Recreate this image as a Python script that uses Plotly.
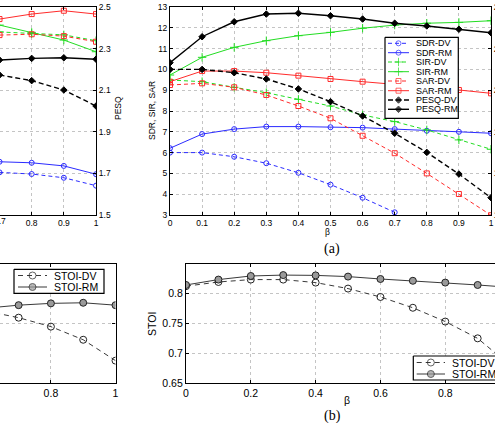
import plotly.graph_objects as go

W, H = 495, 423

# ---------------- data ----------------
# (a) left panel, only beta 0.7..1 visible
beta_tl = [0.7, 0.8, 0.9, 1.0]
tl_sdr_dv = [5.05, 4.97, 4.79, 4.41]
tl_sdr_rm = [5.56, 5.51, 5.36, 4.96]
tl_sir_dv = [11.80, 11.72, 11.66, 11.38]
tl_sir_rm = [12.13, 11.78, 11.41, 10.85]
tl_sar_dv = [11.65, 11.69, 11.60, 11.33]
tl_sar_rm = [12.42, 12.66, 12.82, 12.66]
tl_pesq_dv = [2.173, 2.146, 2.101, 2.024]
tl_pesq_rm = [2.245, 2.253, 2.256, 2.249]

# (a) right panel
beta = [0.0, 0.1, 0.2, 0.3, 0.4, 0.5, 0.6, 0.7, 0.8, 0.9, 1.0]
sdr_dv = [6.00, 6.00, 5.80, 5.49, 5.03, 4.46, 3.83, 3.13]
sdr_rm = [6.21, 6.89, 7.13, 7.25, 7.25, 7.22, 7.20, 7.13, 7.05, 7.00, 6.93]
sir_dv = [9.49, 9.41, 9.14, 8.88, 8.56, 8.24, 7.81, 7.49, 7.09, 6.61, 6.16]
sir_rm = [9.73, 10.58, 11.06, 11.38, 11.62, 11.78, 11.98, 12.13, 12.22, 12.26, 12.34]
sar_dv = [9.25, 9.33, 9.14, 8.77, 8.24, 7.65, 6.81, 5.97, 5.00, 4.01, 2.99]
sar_rm = [9.41, 9.92, 9.92, 9.84, 9.70, 9.54, 9.41, 9.28, 9.15, 9.01, 8.85]
pesq_dv = [2.200, 2.200, 2.184, 2.154, 2.106, 2.045, 1.976, 1.893, 1.801, 1.697, 1.583]
pesq_rm = [2.232, 2.357, 2.429, 2.466, 2.470, 2.458, 2.442, 2.422, 2.409, 2.393, 2.376]

# (b) left panel
beta_bl = [0.6, 0.7, 0.8, 0.9, 1.0]
bl_stoi_dv = [0.821, 0.810, 0.795, 0.773, 0.738]
bl_stoi_rm = [0.826, 0.831, 0.834, 0.835, 0.831]

# (b) right panel
stoi_dv = [0.812, 0.819, 0.823, 0.823, 0.818, 0.808, 0.794, 0.776, 0.753, 0.725, 0.680]
stoi_rm = [0.814, 0.823, 0.829, 0.8305, 0.830, 0.828, 0.824, 0.821, 0.818, 0.814, 0.810]

names_a = ["SDR-DV", "SDR-RM", "SIR-DV", "SIR-RM", "SAR-DV", "SAR-RM", "PESQ-DV", "PESQ-RM"]
names_b = ["STOI-DV", "STOI-RM"]
tick_beta = [0.0, 0.1, 0.2, 0.3, 0.4, 0.5, 0.6, 0.7, 0.8, 0.9, 1.0]
tick_pesq = [1.5, 1.7, 1.9, 2.1, 2.3, 2.5]

# ---------------- styles ----------------
BLUE, RED, GREEN, BLACK = "#2b2bff", "#ff2b2b", "#22dd22", "#000000"
DASH = "4px,3px"
sty = {
    "SDR-DV": dict(color=BLUE, dash=DASH, symbol="circle-open", size=5, w=1),
    "SDR-RM": dict(color=BLUE, dash="solid", symbol="circle-open", size=5, w=1),
    "SIR-DV": dict(color=GREEN, dash=DASH, symbol="cross-thin-open", size=6, w=1),
    "SIR-RM": dict(color=GREEN, dash="solid", symbol="cross-thin-open", size=6, w=1),
    "SAR-DV": dict(color=RED, dash=DASH, symbol="square-open", size=5, w=1),
    "SAR-RM": dict(color=RED, dash="solid", symbol="square-open", size=5, w=1),
    "PESQ-DV": dict(color=BLACK, dash="5px,3px", symbol="diamond", size=5, w=1.4),
    "PESQ-RM": dict(color=BLACK, dash="solid", symbol="diamond", size=5, w=1.4),
    "STOI-DV": dict(color="#222222", dash="5px,4px", symbol="circle-open", size=7, w=0.9, fill=None),
    "STOI-RM": dict(color="#222222", dash="solid", symbol="circle", size=7, w=0.9, fill="#9a9a9a"),
}


def line(x, y, name, xa, ya):
    s = sty[name]
    mk = dict(symbol=s["symbol"], size=s["size"], color=s.get("fill") or s["color"],
              line=dict(color=s["color"], width=1))
    return go.Scatter(x=x, y=y, mode="lines+markers", name=name, xaxis=xa, yaxis=ya,
                      line=dict(color=s["color"], width=s["w"], dash=s["dash"]),
                      marker=mk, showlegend=False, hoverinfo="skip")


fig = go.Figure()

# top-left panel
tl = [("SDR-DV", tl_sdr_dv), ("SDR-RM", tl_sdr_rm), ("SIR-DV", tl_sir_dv), ("SIR-RM", tl_sir_rm),
      ("SAR-DV", tl_sar_dv), ("SAR-RM", tl_sar_rm)]
for n, v in tl:
    fig.add_trace(line(beta_tl, v, n, "x", "y"))
fig.add_trace(line(beta_tl, tl_pesq_dv, "PESQ-DV", "x", "y2"))
fig.add_trace(line(beta_tl, tl_pesq_rm, "PESQ-RM", "x", "y2"))

# top-right panel
tr = [("SDR-DV", sdr_dv), ("SDR-RM", sdr_rm), ("SIR-DV", sir_dv), ("SIR-RM", sir_rm),
      ("SAR-DV", sar_dv), ("SAR-RM", sar_rm)]
for n, v in tr:
    fig.add_trace(line(beta[:len(v)], v, n, "x2", "y3"))
fig.add_trace(line(beta, pesq_dv, "PESQ-DV", "x2", "y4"))
fig.add_trace(line(beta, pesq_rm, "PESQ-RM", "x2", "y4"))

# bottom panels
fig.add_trace(line(beta_bl, bl_stoi_dv, "STOI-DV", "x3", "y5"))
fig.add_trace(line(beta_bl, bl_stoi_rm, "STOI-RM", "x3", "y5"))
fig.add_trace(line(beta, stoi_dv, "STOI-DV", "x4", "y6"))
fig.add_trace(line(beta, stoi_rm, "STOI-RM", "x4", "y6"))

# ---------------- manual legends (pixel overlay axis) ----------------
annotations = []


def legend_box(x0, x1, y0, y1, rows_y, names, lx0, lx1, tx, fsize):
    fig.add_trace(go.Scatter(x=[x0, x1, x1, x0, x0], y=[y0, y0, y1, y1, y0], mode="lines",
                             fill="toself", fillcolor="white", line=dict(color="black", width=1.2),
                             xaxis="x5", yaxis="y7", showlegend=False, hoverinfo="skip"))
    for n, yy in zip(names, rows_y):
        s = sty[n]
        fig.add_trace(go.Scatter(x=[lx0, (lx0 + lx1) / 2, lx1], y=[yy, yy, yy], mode="lines+markers",
                                 line=dict(color=s["color"], width=s["w"], dash=s["dash"]),
                                 marker=dict(symbol=s["symbol"], size=[0, s["size"], 0],
                                             color=s.get("fill") or s["color"],
                                             line=dict(color=s["color"], width=1)),
                                 xaxis="x5", yaxis="y7", showlegend=False, hoverinfo="skip"))
        annotations.append(dict(x=tx, y=yy, xref="x5", yref="y7", text=n, showarrow=False,
                                xanchor="left", yanchor="middle",
                                font=dict(size=fsize, color="black")))


legend_box(385, 458.3, 37.3, 118.3, [43.3, 52.7, 62, 71.7, 81, 90.7, 100, 109.3], names_a,
           388, 409, 414, 9)
legend_box(14, 104, 269.3, 293.3, [275.5, 287], names_b, 18, 47, 52, 10.5)
legend_box(413.3, 530, 356, 380, [362.5, 374], names_b, 416.7, 445, 450, 10.5)


def px(x):
    return x / W


def py(y):
    return 1 - y / H


GRID = dict(showgrid=True, gridcolor="#c4c4c4", gridwidth=1, griddash="dot")
AX = dict(linecolor="black", linewidth=1.2, ticks="inside", ticklen=3, tickcolor="black",
          zeroline=False)
F8 = dict(size=8.5, color="black")
F10 = dict(size=10.5, color="black")

top_dom = [py(215), py(7)]
bot_dom = [py(383.3), py(264)]

fig.update_layout(
    width=W, height=H,
    margin=dict(l=0, r=0, t=0, b=0, autoexpand=False),
    paper_bgcolor="white", plot_bgcolor="rgba(0,0,0,0)",
    font=dict(family="Liberation Sans, Arial, sans-serif", color="black"),
    showlegend=False,
    # top-left
    xaxis=dict(domain=[0, px(96)], range=[0.7015, 1.0], tickvals=tick_beta, showline=True,
               mirror="ticks", tickfont=F8, **GRID, **AX),
    yaxis=dict(domain=top_dom, range=[3, 13], visible=False, anchor="x"),
    yaxis2=dict(overlaying="y", side="right", anchor="x", range=[1.5, 2.5], tickvals=tick_pesq,
                ticktext=["1.5", "1.7", "1.9", "2.1", "2.3", "2.5"],
                showline=True, tickfont=F8, **GRID, **AX),
    # top-right
    xaxis2=dict(domain=[px(170), px(491)], range=[0, 1], tickvals=tick_beta, showline=True,
                mirror="ticks", anchor="y3", tickfont=F8, **GRID, **AX),
    yaxis3=dict(domain=top_dom, range=[3, 13], dtick=1, anchor="x2", showline=True,
                tickfont=F8, **GRID, **AX),
    yaxis4=dict(overlaying="y3", side="right", anchor="x2", range=[1.5, 2.5], tickvals=tick_pesq,
                ticktext=["1.5", "1.7", "1.9", "2.1", "2.3", "2.5"], showline=True,
                showgrid=False, tickfont=F8, **AX),
    # bottom-left
    xaxis3=dict(domain=[0, px(115.5)], range=[0.6423, 1.0], tickvals=[0.6, 0.8, 1.0],
                ticktext=["0.6", "0.8", "1"], anchor="y5", showline=True, mirror="ticks",
                tickfont=F10, **GRID, **AX),
    yaxis5=dict(domain=bot_dom, range=[0.7, 0.9], tickvals=[0.7, 0.8, 0.9], side="right",
                anchor="x3", showline=True, showticklabels=False, **GRID, **AX),
    # bottom-right
    xaxis4=dict(domain=[px(186), 1], range=[0, 0.9535], tickvals=[0, 0.2, 0.4, 0.6, 0.8, 1.0],
                ticktext=["0", "0.2", "0.4", "0.6", "0.8", "1"], anchor="y6", showline=True,
                mirror="ticks", tickfont=F10, **GRID, **AX),
    yaxis6=dict(domain=bot_dom, range=[0.65, 0.849], tickvals=[0.65, 0.7, 0.75, 0.8],
                ticktext=["0.65", "0.7", "0.75", "0.8"], anchor="x4", showline=True,
                tickfont=F10, **GRID, **AX),
    # pixel overlay for legends
    xaxis5=dict(domain=[0, 1], range=[0, W], visible=False, anchor="y7"),
    yaxis7=dict(domain=[0, 1], range=[H, 0], visible=False, anchor="x5"),
)

annotations += [
    dict(x=px(-0.5), y=py(221), xref="paper", yref="paper", text="0.7", showarrow=False,
         xanchor="center", yanchor="middle", font=F8),
    dict(x=px(118), y=py(108), xref="paper", yref="paper", text="PESQ", showarrow=False,
         textangle=-90, xanchor="center", yanchor="middle", font=F8),
    dict(x=px(152), y=py(111), xref="paper", yref="paper", text="SDR, SIR, SAR", showarrow=False,
         textangle=-90, xanchor="center", yanchor="middle", font=F8),
    dict(x=px(327), y=py(232), xref="paper", yref="paper", text="β", showarrow=False,
         xanchor="center", yanchor="middle", font=F8),
    dict(x=px(332), y=py(249), xref="paper", yref="paper", text="(a)", showarrow=False,
         xanchor="center", yanchor="middle",
         font=dict(family="Liberation Serif, Times New Roman, serif", size=14, color="black")),
    dict(x=px(152), y=py(324), xref="paper", yref="paper", text="STOI", showarrow=False,
         textangle=-90, xanchor="center", yanchor="middle", font=F10),
    dict(x=px(347), y=py(400), xref="paper", yref="paper", text="β", showarrow=False,
         xanchor="center", yanchor="middle", font=F10),
    dict(x=px(332), y=py(416), xref="paper", yref="paper", text="(b)", showarrow=False,
         xanchor="center", yanchor="middle",
         font=dict(family="Liberation Serif, Times New Roman, serif", size=14, color="black")),
]
fig.update_layout(annotations=annotations)

fig.write_html("out.html")
